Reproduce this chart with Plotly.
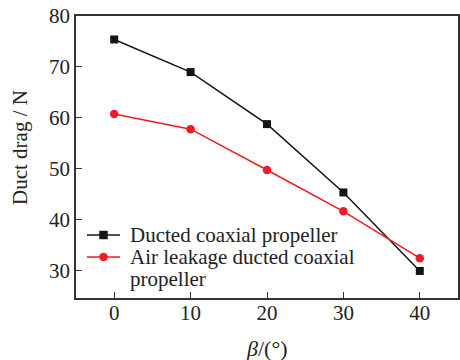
import plotly.graph_objects as go

beta = [0, 10, 20, 30, 40]
ducted = [75.4, 69.0, 58.8, 45.4, 30.0]
leakage = [60.8, 57.8, 49.8, 41.7, 32.5]
names = ["Ducted coaxial propeller", "Air leakage ducted coaxial", "propeller"]
xticks = [0, 10, 20, 30, 40]
yticks = [30, 40, 50, 60, 70, 80]
xtitle = "<i>β</i>/(°)"
ytitle = "Duct drag / N"

font = "Liberation Serif, Times New Roman, serif"
black = "#151515"
red = "#ec1c24"

W, H = 460, 360
ML, MR, MT, MB = 76, 2, 16, 62
PW, PH = W - ML - MR, H - MT - MB

def px(xf):
    return (xf - ML) / PW

def py(yf):
    return (H - MB - yf) / PH

fig = go.Figure()
fig.add_trace(go.Scatter(x=beta, y=ducted, mode="lines+markers", name=names[0],
                         line=dict(color=black, width=1.5),
                         marker=dict(symbol="square", size=8, color=black),
                         showlegend=False))
fig.add_trace(go.Scatter(x=beta, y=leakage, mode="lines+markers", name=names[1] + " " + names[2],
                         line=dict(color=red, width=1.5),
                         marker=dict(symbol="circle", size=8.5, color=red),
                         showlegend=False))

axis_common = dict(showline=True, linecolor="#333333", linewidth=1.5, mirror=True,
                   ticks="inside", ticklen=6, tickwidth=1.2, tickcolor="#333333",
                   showgrid=False, zeroline=False, automargin=False,
                   ticklabeloverflow="allow",
                   tickfont=dict(family=font, size=21, color="#222222"))
fig.update_xaxes(range=[-5, 45], tickvals=xticks, ticklabelstandoff=-5, **axis_common)
fig.update_yaxes(range=[24.7, 80.0001], tickvals=yticks, **axis_common)

fig.add_annotation(text=xtitle, xref="paper", yref="paper", x=0.5, y=0, yshift=-50,
                   xanchor="center", yanchor="middle", showarrow=False,
                   font=dict(family=font, size=22, color="#222222"))
fig.add_annotation(text=ytitle, xref="paper", yref="paper", x=0, xshift=-56, y=0.5, yshift=9,
                   xanchor="center", yanchor="middle", textangle=-90, showarrow=False,
                   font=dict(family=font, size=21, color="#222222"))

# manual legend (tight line spacing as in reference)
rows = [(235, black, "square", names[0]), (257, red, "circle", names[1]), (279, None, None, names[2])]
for yr, col, sym, txt in rows:
    fig.add_annotation(text=txt, xref="paper", yref="paper", x=px(128), y=py(yr),
                       xanchor="left", yanchor="middle", showarrow=False,
                       font=dict(family=font, size=21, color="#222222"))
    if col is None:
        continue
    fig.add_shape(type="line", xref="paper", yref="paper", x0=px(87), x1=px(120),
                  y0=py(yr), y1=py(yr), line=dict(color=col, width=1.5))
    fig.add_shape(type="rect" if sym == "square" else "circle", xref="paper", yref="paper",
                  xsizemode="pixel", ysizemode="pixel", xanchor=px(103.5), yanchor=py(yr),
                  x0=-4, x1=4, y0=-4, y1=4, fillcolor=col, line=dict(color=col, width=0.5))

fig.update_layout(width=W, height=H, margin=dict(l=ML, r=MR, t=MT, b=MB),
                  paper_bgcolor="white", plot_bgcolor="white", showlegend=False,
                  hovermode=False)
fig.write_html("out.html", config={"displayModeBar": False},
               post_script="document.body.style.margin='0';")
